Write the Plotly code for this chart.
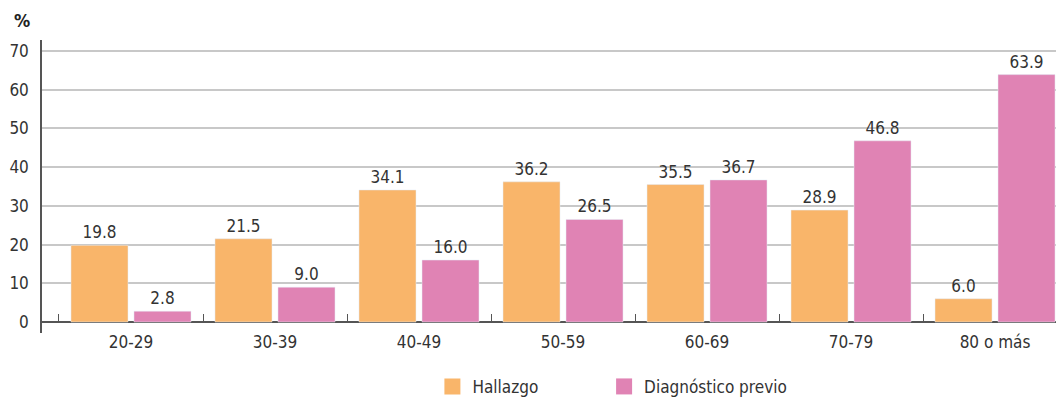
import plotly.graph_objects as go

# age groups and percentages
grupos = ["20-29", "30-39", "40-49", "50-59", "60-69", "70-79", "80 o más"]
hallazgo = [19.8, 21.5, 34.1, 36.2, 35.5, 28.9, 6.0]
diagnostico = [2.8, 9.0, 16.0, 26.5, 36.7, 46.8, 63.9]
y_ticks = [0, 10, 20, 30, 40, 50, 60, 70]

naranja = "#F9B56A"
rosa = "#E083B4"
texto = "#333333"
fuente = "DejaVu Sans Condensed, Liberation Sans Narrow, Arial Narrow, sans-serif"

fig = go.Figure()

series = [("Hallazgo", hallazgo, naranja, "legend"),
          ("Diagnóstico previo", diagnostico, rosa, "legend2")]
for nombre, vals, color, ley in series:
    fig.add_trace(go.Bar(
        x=grupos, y=vals, name=nombre, marker_color=color,
        text=[f"{v:.1f}" for v in vals], textposition="outside",
        textfont=dict(size=17, color=texto), cliponaxis=False,
        showlegend=False))
    # legend entry with a bigger square
    fig.add_trace(go.Scatter(
        x=[grupos[0]], y=[None], mode="markers", name=nombre, legend=ley,
        marker=dict(symbol="square", size=20, color=color)))

ley_comun = dict(orientation="h", xanchor="left", yref="container",
                 y=0.031, yanchor="middle", font=dict(size=17, color=texto))

# the page body has an 8px margin, so the figure is 8px smaller than the window
fig.update_layout(
    width=1056, height=391,
    margin=dict(l=34, r=0, t=32, b=66),
    plot_bgcolor="white", paper_bgcolor="white",
    font=dict(family=fuente, size=17, color=texto),
    barmode="group", bargap=0.125, bargroupgap=0.095,
    legend=dict(x=0.382, **ley_comun),
    legend2=dict(x=0.550, **ley_comun),
)

fig.update_yaxes(
    range=[-2.84, 72.84], tickvals=y_ticks,
    showgrid=True, gridcolor="#c8c8c8", gridwidth=1.5,
    zeroline=True, zerolinecolor="#555555", zerolinewidth=1.5,
    showline=True, linecolor="#555555", linewidth=1.5,
    ticks="", ticklabelstandoff=8, tickfont=dict(size=17, color=texto))

fig.update_xaxes(
    range=[-0.618, 6.479],
    anchor="free", position=0.0375,
    showline=False, showgrid=False,
    ticks="inside", tickson="boundaries", ticklen=8, tickcolor="#555555",
    tickwidth=1, ticklabelstandoff=8, tickfont=dict(size=17, color=texto))

fig.add_annotation(text="<b>%</b>", xref="paper", yref="paper",
                   x=-0.029, y=1.068, xanchor="left", yanchor="middle",
                   showarrow=False, font=dict(size=18, color="#222222"))

fig.write_html("out.html")
